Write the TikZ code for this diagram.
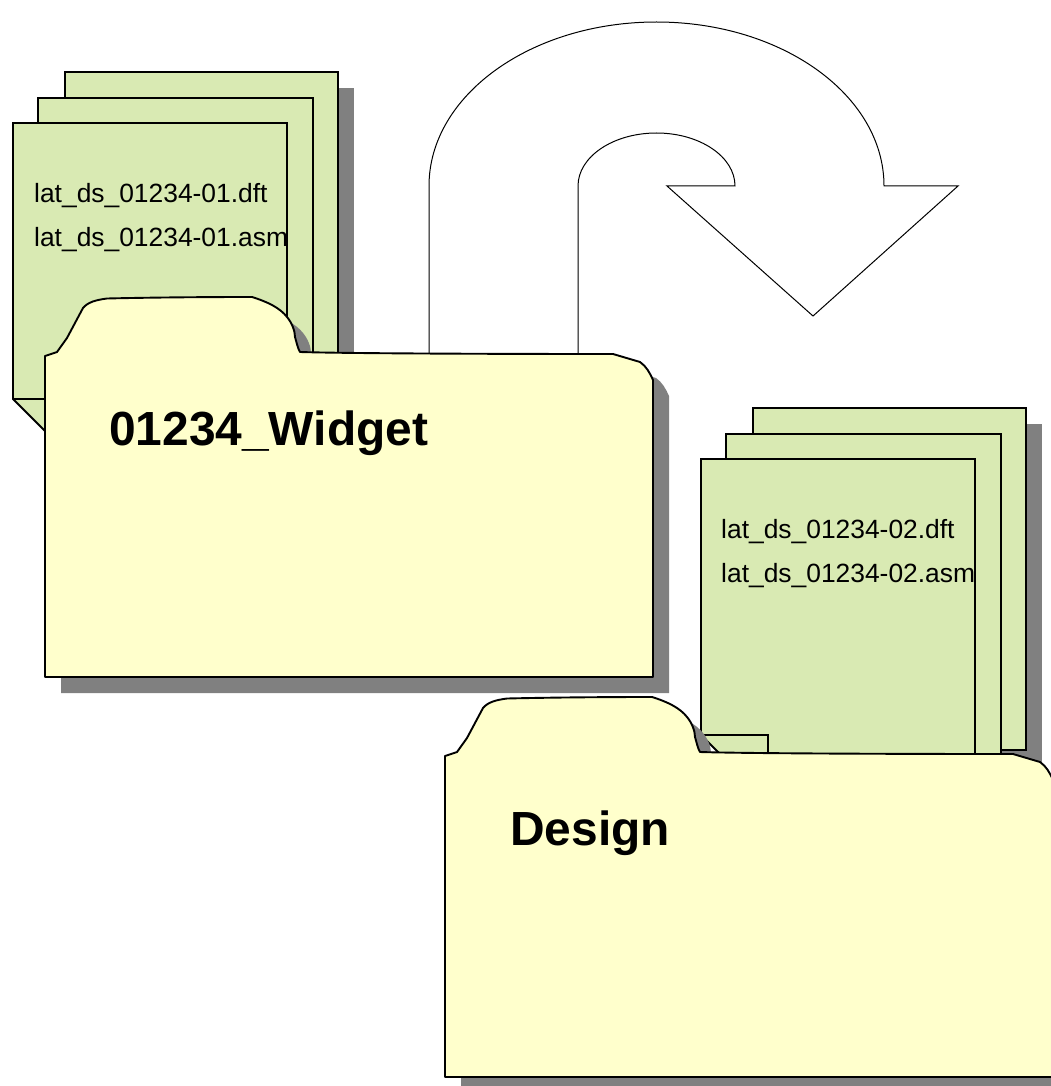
\documentclass[tikz,border=0pt]{standalone}
\usepackage{fontspec}
\setmainfont{Liberation Sans}
\definecolor{foldercol}{HTML}{FFFFCC}
\definecolor{pagecol}{HTML}{D9EAB3}
\definecolor{shadowcol}{HTML}{808080}
\tikzset{
  pagebox/.style={draw=black,fill=pagecol,line width=1.8pt},
  shadowbox/.style={fill=shadowcol,draw=none},
  folderbox/.style={draw=black,fill=foldercol,line width=1.9pt,line join=round},
  filelabel/.style={anchor=base west,inner sep=0pt,font=\fontsize{26.4}{30}\selectfont},
  folderlabel/.style={anchor=base west,inner sep=0pt,font=\fontsize{47.9}{54}\selectfont\bfseries},
  turnarrow/.style={draw=black,fill=white,line width=1pt,line join=miter}
}
\newcommand{\folderpath}{(45,356) -- (57,352)
  -- (67,338) -- (83,308)
  .. controls (88,302) and (96,300) .. (107,298.5)
  .. controls (150,297.5) and (200,297) .. (252,297)
  .. controls (268,302) and (280,308) .. (287,317)
  .. controls (292,323) and (295,331) .. (295,337)
  .. controls (297,344) and (298,349) .. (300,352)
  .. controls (350,353.5) and (500,354) .. (613,354) -- (640,362)
  .. controls (646,366) and (650,373) .. (653,380)
  -- (653,677) -- (45,677) -- cycle}
\newcommand{\pagestack}[2]{%
  \begin{scope}[shift={(#1,#2)}]
    \fill[shadowbox] (68,-35) rectangle (341,307);
    \draw[pagebox] (52,-51) rectangle (325,291);
    \draw[pagebox] (25,-25) rectangle (300,295);
    \draw[pagebox] (0,0) -- (274,0) -- (274,326) -- (50,326) -- (0,276) -- cycle;
    \draw[pagebox,fill=none] (0,276) -- (67,276) -- (67,296);
  \end{scope}}
\begin{document}
\begin{tikzpicture}[x=1pt,y=-1pt]
\useasboundingbox (0,0) rectangle (1051,1086);
\clip (0,0) rectangle (1051,1086);
% curved arrow
\draw[turnarrow] (429,353) -- (429,186)
  arc[start angle=180,end angle=360,x radius=227.5,y radius=164]
  -- (958,186) -- (813,316) -- (667,186) -- (735,186)
  arc[start angle=0,end angle=-180,x radius=78.5,y radius=53]
  -- (578,353);
% first stack and folder
\pagestack{13}{123}
\fill[shadowbox,shift={(16,16)}] \folderpath;
\draw[folderbox] \folderpath;
\node[filelabel] (f1a) at (34,202.5) {lat\_ds\_01234-01.dft};
\node[filelabel] (f1b) at (34,246.5) {lat\_ds\_01234-01.asm};
\node[folderlabel] (w) at (109,445) {01234\_Widget};
% second stack and folder
\pagestack{701}{459}
\fill[shadowbox,shift={(416,416)}] \folderpath;
\draw[folderbox,shift={(400,400)}] \folderpath;
\node[filelabel] (f2a) at (721,538) {lat\_ds\_01234-02.dft};
\node[filelabel] (f2b) at (721,582.5) {lat\_ds\_01234-02.asm};
\node[folderlabel] (d) at (510,845) {Design};
\end{tikzpicture}
\end{document}
